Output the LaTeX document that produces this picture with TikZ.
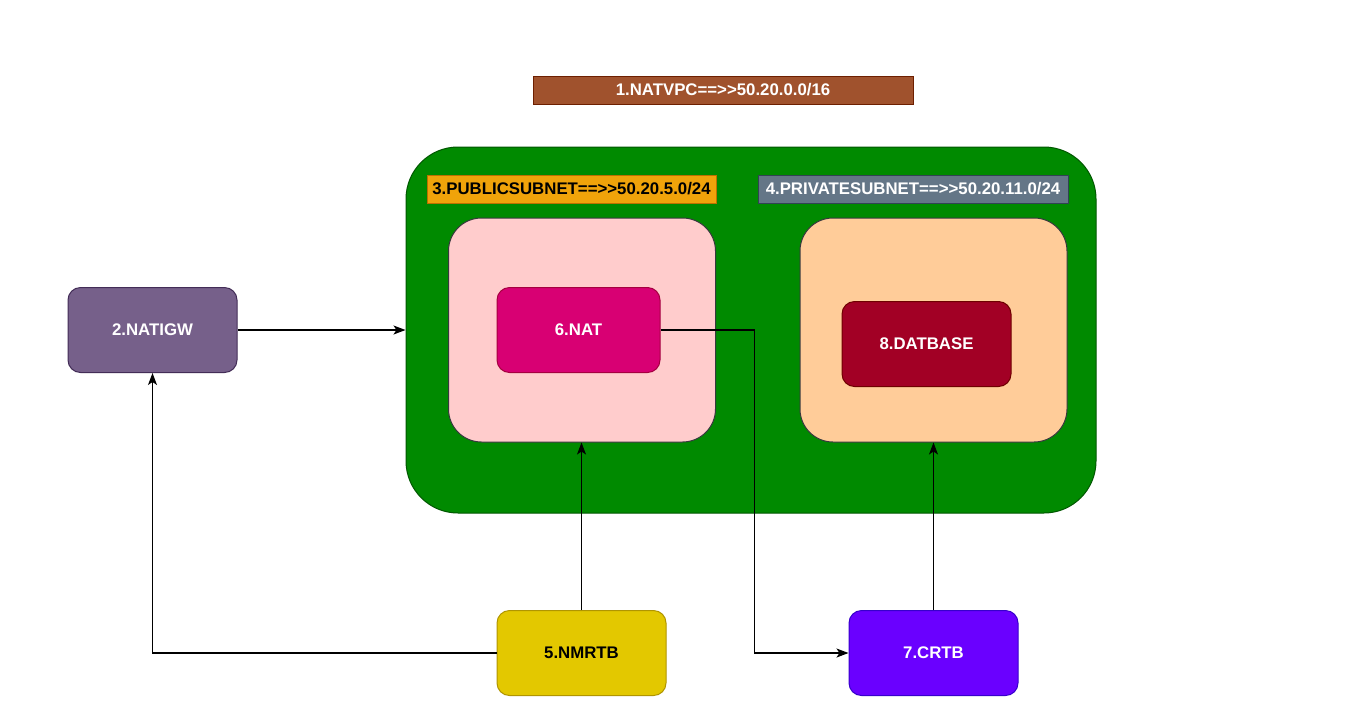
\documentclass[tikz,border=0pt]{standalone}
\usepackage{fontspec}
\setmainfont{Liberation Sans}[Ligatures=TeXOff]
\usepackage{tikz}
\usetikzlibrary{arrows.meta}
\usetikzlibrary{positioning}
\definecolor{vpcfill}{HTML}{A0522D}
\definecolor{vpcline}{HTML}{6D1F00}
\definecolor{greenfill}{HTML}{008A00}
\definecolor{greenline}{HTML}{005700}
\definecolor{pubfill}{HTML}{F0A30A}
\definecolor{publine}{HTML}{BD7000}
\definecolor{privfill}{HTML}{647687}
\definecolor{privline}{HTML}{314354}
\definecolor{pinkfill}{HTML}{FFCCCC}
\definecolor{peachfill}{HTML}{FFCC99}
\definecolor{subline}{HTML}{36393D}
\definecolor{natfill}{HTML}{D80073}
\definecolor{natline}{HTML}{A50040}
\definecolor{dbfill}{HTML}{A20025}
\definecolor{dbline}{HTML}{6F0000}
\definecolor{igwfill}{HTML}{76608A}
\definecolor{igwline}{HTML}{432D57}
\definecolor{nmfill}{HTML}{E3C800}
\definecolor{nmline}{HTML}{B09500}
\definecolor{crfill}{HTML}{6A00FF}
\definecolor{crline}{HTML}{3700CC}
\tikzset{box/.style = {draw, line width=1pt, rounded corners=12.5pt,
                       minimum width=169pt, minimum height=85pt,
                       font=\fontsize{16.8}{20}\selectfont\bfseries,
                       text=white, inner sep=0pt}}
\tikzset{tag/.style = {draw, line width=1pt, minimum height=28pt,
                       font=\fontsize{16.8}{20}\selectfont\bfseries,
                       text=white, inner sep=0pt}}
\tikzset{subnet/.style = {draw=subline, line width=1pt, rounded corners=33pt,
                          minimum width=267pt, minimum height=224pt}}
\tikzset{link/.style = {-{Stealth[length=12pt, width=9pt, inset=3pt]},
                        line width=1.2pt}}

\begin{document}
\begin{tikzpicture}[x=1pt, y=-1pt]
      \useasboundingbox [fill=white] (0, 0) rectangle (1352, 716);

      \node [tag, fill=vpcfill, draw=vpcline, minimum width=380pt] (title) at (723, 90) {1.NATVPC==>>50.20.0.0/16};

      \node [draw=greenline, fill=greenfill, line width=1pt, rounded corners=52pt,
             minimum width=690pt, minimum height=366pt] (vpc) at (751, 330) {};

      \node [tag, fill=pubfill, draw=publine, text=black, minimum width=289pt] (pubtag) at (571.5, 189) {3.PUBLICSUBNET==>>50.20.5.0/24};
      \node [tag, fill=privfill, draw=privline, minimum width=310pt] (privtag) at (913, 189) {4.PRIVATESUBNET==>>50.20.11.0/24};

      \node [subnet, fill=pinkfill] (pubsub) at (582, 330) {};
      \node [subnet, fill=peachfill] (privsub) at (933.5, 330) {};

      \node [box, fill=natfill, draw=natline, minimum width=163pt] (nat) at (578.5, 330) {6.NAT};
      \node [box, fill=dbfill, draw=dbline] (db) at (926.5, 344) {8.DATBASE};
      \node [box, fill=igwfill, draw=igwline] (igw) at (152.5, 330) {2.NATIGW};
      \node [box, fill=nmfill, draw=nmline, text=black] (nmrtb) at (581.5, 653) {5.NMRTB};
      \node [box, fill=crfill, draw=crline] (crtb) at (933.5, 653) {7.CRTB};

      \draw [link] (igw) -- (vpc.west);
      \draw [link] (nmrtb.north) -- (nmrtb.north |- pubsub.south);
      \draw [link] (nmrtb.west) -| (igw.south);
      \draw [link] (nat.east) -- ++(94, 0) |- (crtb.west);
      \draw [link] (crtb.north) -- (privsub.south);
    \end{tikzpicture}
\end{document}
